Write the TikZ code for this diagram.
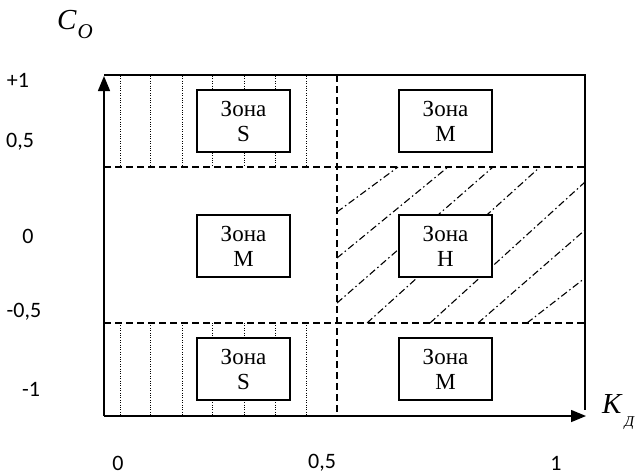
\documentclass[tikz,border=0pt]{standalone}
\usepackage{fontspec}
\setmainfont{Liberation Serif}
\newfontfamily\tickfont{Carlito}
\usetikzlibrary{arrows.meta}
\tikzset{
  frameline/.style={line width=1.5pt},
  zonedash/.style={line width=1.3pt, dash pattern=on 7pt off 4pt},
  dotline/.style={line width=0.9pt, dash pattern=on 1pt off 1.4pt},
  hatchline/.style={line width=1.1pt, dash pattern=on 7pt off 3pt on 1.5pt off 3pt},
  zonebox/.style={draw, line width=1.5pt, fill=white, minimum width=93pt, minimum height=62pt,
    align=center, inner sep=0pt, font=\fontsize{23}{25}\selectfont},
  tick/.style={font=\tickfont\fontsize{22}{24}\selectfont, inner sep=0pt},
  axlabel/.style={font=\fontsize{29}{30}\selectfont\itshape, inner sep=0pt}
}
\begin{document}
\begin{tikzpicture}[x=1pt, y=-1pt]
\useasboundingbox (0,0) rectangle (644,475);
% key coordinates
\coordinate (O) at (104,416);
\coordinate (Ytip) at (104,76);
\coordinate (Xtip) at (586,416);
\coordinate (TL) at (104,75);
\coordinate (TR) at (585,75);
\coordinate (BR) at (585,410);
% dotted lines (left column, top and bottom bands)
\foreach \x in {120,150,182,212,244,275,306}{
  \draw[dotline] (\x,76) -- (\x,167);
  \draw[dotline] (\x,323) -- (\x,415);
}
% hatching (middle-right)
\draw[hatchline] (337,212) -- (398,167);
\draw[hatchline] (337,258) -- (448,167);
\draw[hatchline] (337,303) -- (493,167);
\draw[hatchline] (367,323) -- (540,167);
\draw[hatchline] (430,323) -- (585,182);
\draw[hatchline] (478,323) -- (585,230);
\draw[hatchline] (527,323) -- (585,278);
% dashed zone borders
\draw[zonedash] (104,167) -- (585,167);
\draw[zonedash] (104,323) -- (585,323);
\draw[zonedash] (337,75) -- (337,416);
% frame
\draw[frameline] (TL) -- (TR) -- (BR);
% axes
\draw[frameline, -{Triangle[length=15pt,width=12pt]}] (O) -- (Ytip);
\draw[frameline, -{Triangle[length=15pt,width=12pt]}] (O) -- (Xtip);
% zone boxes
\node[zonebox] (z1) at (243.5,121) {Зона\\S};
\node[zonebox] (z2) at (445.5,121) {Зона\\M};
\node[zonebox] (z3) at (243.5,246) {Зона\\M};
\node[zonebox] (z4) at (445.5,246) {Зона\\H};
\node[zonebox] (z5) at (243.5,369) {Зона\\S};
\node[zonebox] (z6) at (445.5,369) {Зона\\M};
% axis titles
\node[axlabel, anchor=west] (co) at (57,24) {C\hspace{1pt}\raisebox{-9pt}{\fontsize{21}{22}\selectfont O}};
\node[axlabel, anchor=west] (kd) at (602,412) {K\hspace{3pt}\raisebox{-13pt}{\fontsize{15}{16}\selectfont Д}};
% ticks
\node[tick] (t1) at (18,80) {+1};
\node[tick] (t2) at (20,142) {0,5};
\node[tick] (t3) at (28,236) {0};
\node[tick] (t4) at (24,312) {-0,5};
\node[tick] (t5) at (31,389) {-1};
\node[tick] (x0) at (118,463) {0};
\node[tick] (x1) at (322,463) {0,5};
\node[tick] (x2) at (556,463) {1};
\end{tikzpicture}
\end{document}
